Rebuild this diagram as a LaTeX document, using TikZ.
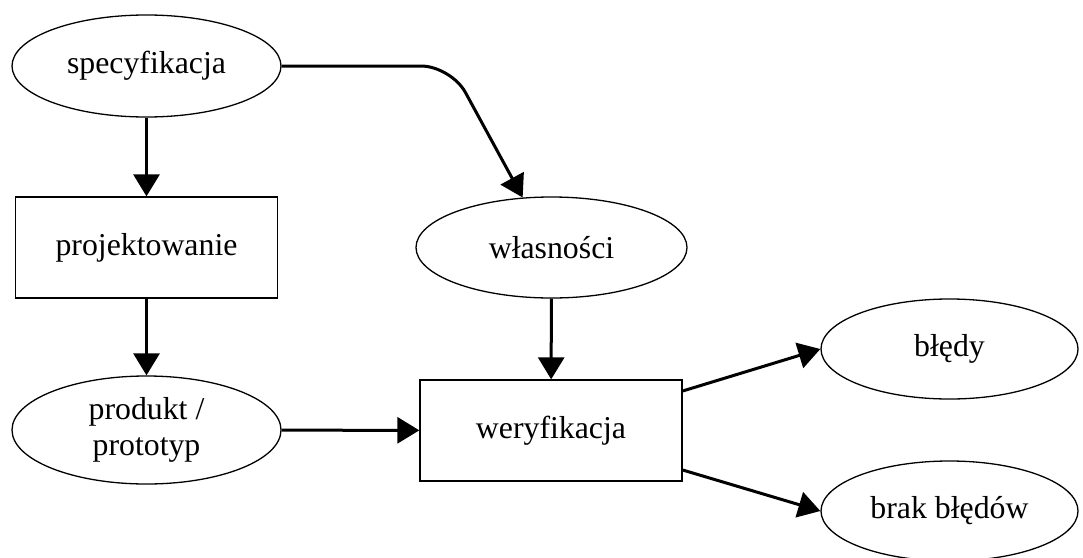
\documentclass[tikz,border=0pt]{standalone}
\usepackage{fontspec}
\setmainfont{Liberation Serif}
\usetikzlibrary{shapes.geometric,arrows.meta}
\begin{document}
\begin{tikzpicture}[x=1pt,y=-1pt,
  every node/.style={font=\fontsize{31.8}{36.5}\selectfont, inner sep=0pt, line width=1.3pt, draw},
  oval/.style={ellipse, minimum width=269pt, minimum height=102pt},
  box/.style={rectangle, minimum width=262pt, minimum height=101pt},
  link/.style={line width=3pt, -{Triangle[length=22pt,width=26pt]}}]
\useasboundingbox (0,0) rectangle (1083,557);

% nodes
\node[oval] (spec) at (146.5,66) {specyfikacja};
\node[box] (proj) at (146.5,247.5) {projektowanie};
\node[oval, minimum height=108pt, align=center] (prod) at (146.5,430) {produkt /\\prototyp};
\node[oval, minimum width=271pt, minimum height=101pt] (wlas) at (551.5,247.5) {własności};
\node[box] (wer) at (551,430.5) {weryfikacja};
\node[oval, minimum width=257pt, minimum height=100pt] (bled) at (949.5,349) {błędy};
\node[oval, minimum width=257pt, minimum height=100pt] (brak) at (949.5,511) {brak błędów};
\coordinate (bend) at (451,66);

% connectors
\draw[link] (spec) -- (proj);
\draw[link] (proj) -- (prod);
\draw[link] (prod) -- (wer);
\draw[link] (wlas) -- (wer);
\draw[link] ([yshift=39.5pt]wer.east) -- (bled.west);
\draw[link] ([yshift=-39.5pt]wer.east) -- (brak.west);
\draw[link, rounded corners=30pt] (spec.east) -- (bend) -- (wlas.120);
\end{tikzpicture}
\end{document}
